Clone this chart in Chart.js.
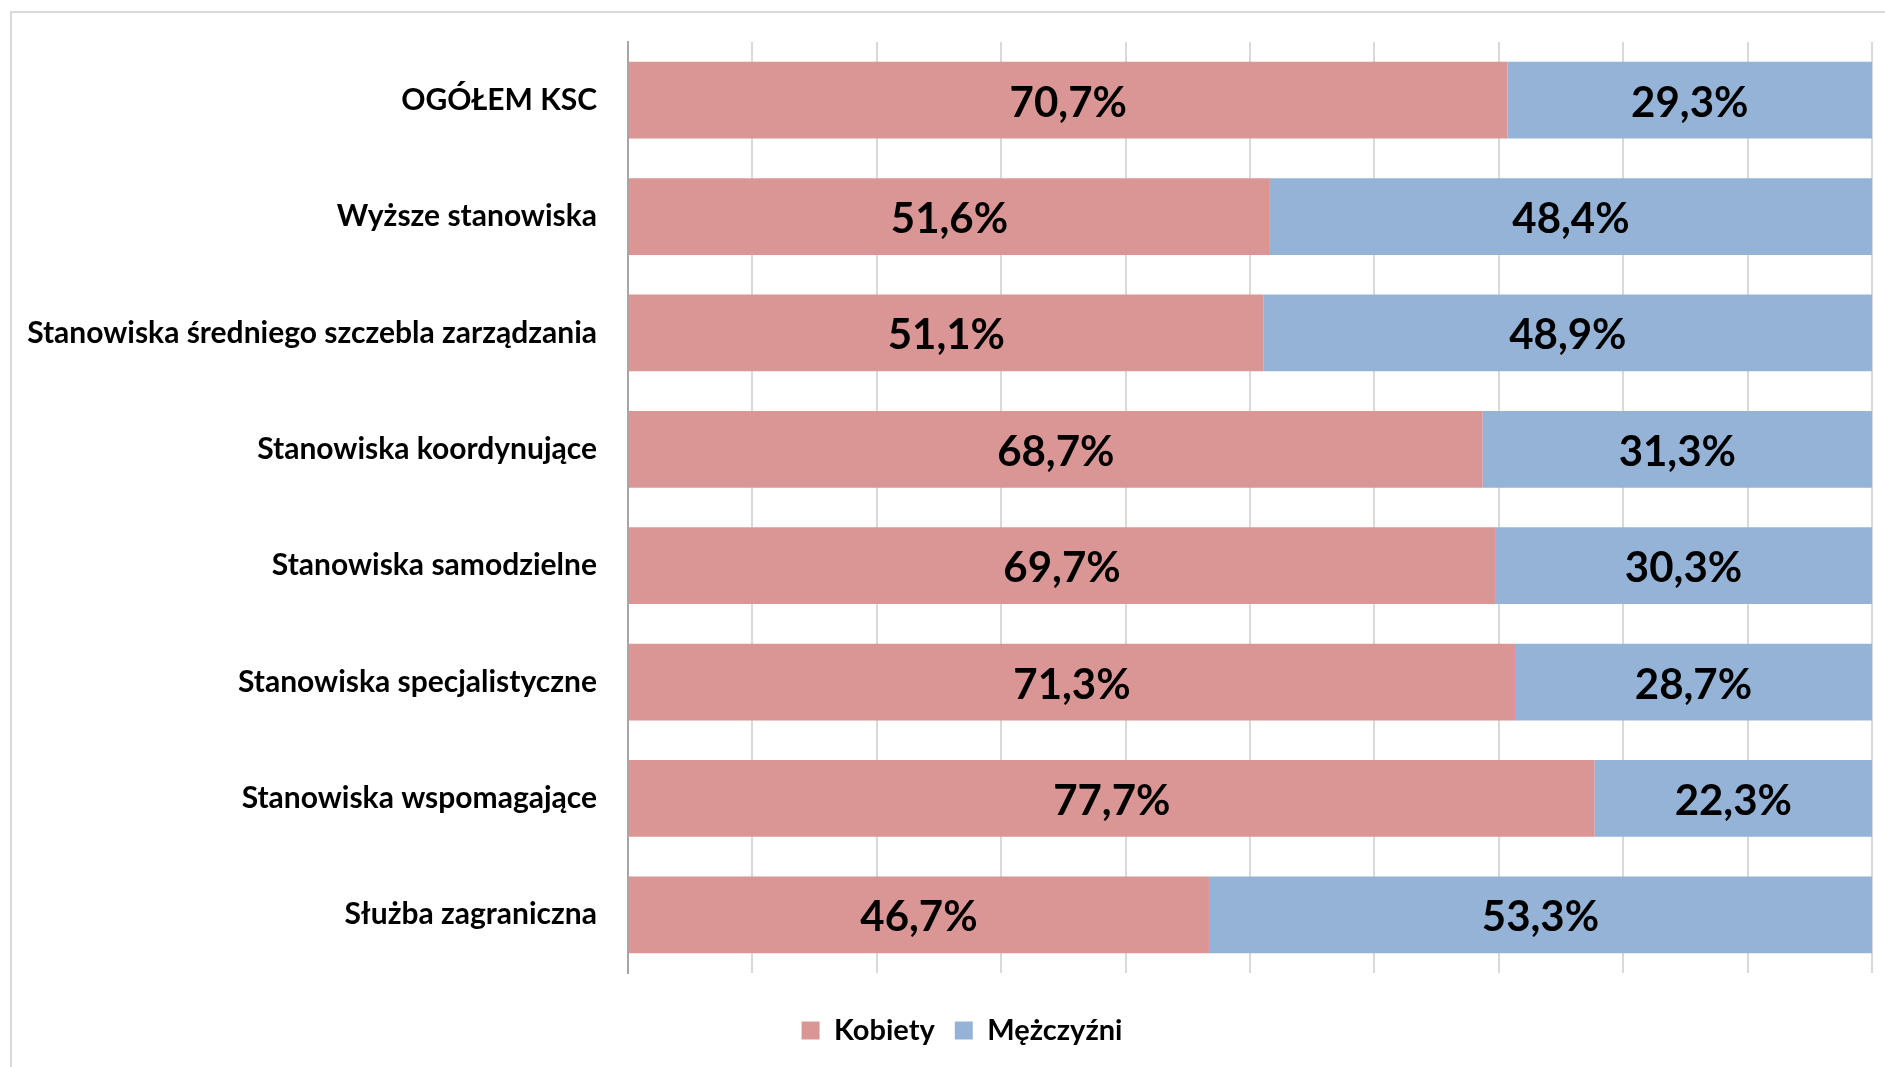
<!DOCTYPE html>
<html>
<head>
<meta charset="utf-8">
<script src="https://cdn.jsdelivr.net/npm/chart.js@4.4.1/dist/chart.umd.min.js"></script>
<style>
  html, body { margin: 0; padding: 0; background: #fff; overflow: hidden; }
  #frame {
    position: absolute; left: 10px; top: 11px;
    width: 1900px; height: 1060px;
    border-top: 2px solid #d9d9d9; border-left: 2px solid #d9d9d9;
  }
  #wrap { position: relative; width: 1900px; height: 1054px; }
</style>
</head>
<body>
<div id="frame"><div id="wrap"><canvas id="genderChart"></canvas></div></div>
<script>
// Categories and shares (%)
const categories = [
  "OGÓŁEM KSC",
  "Wyższe stanowiska",
  "Stanowiska średniego szczebla zarządzania",
  "Stanowiska koordynujące",
  "Stanowiska samodzielne",
  "Stanowiska specjalistyczne",
  "Stanowiska wspomagające",
  "Służba zagraniczna",
]
const kobiety = [70.7, 51.6, 51.1, 68.7, 69.7, 71.3, 77.7, 46.7]
const mezczyzni = [29.3, 48.4, 48.9, 31.3, 30.3, 28.7, 22.3, 53.3]

const FONT = "Lato, 'Open Sans', sans-serif"

// Value labels centred in each segment
const barLabels = {
  id: "barLabels",
  afterDatasetsDraw(chart) {
    const ctx = chart.ctx
    ctx.save()
    ctx.font = "bold 42px " + FONT
    ctx.fillStyle = "#000"
    ctx.textAlign = "center"
    ctx.textBaseline = "middle"
    chart.data.datasets.forEach((ds, i) => {
      chart.getDatasetMeta(i).data.forEach((bar, j) => {
        const txt = ds.data[j].toFixed(1).replace(".", ",") + "%"
        ctx.fillText(txt, (bar.x + bar.base) / 2, bar.y + 3)
      })
    })
    ctx.restore()
  },
}

// legend sits centred on the whole frame, not just the canvas minus right padding
const legendShift = {
  id: "legendShift",
  afterLayout(chart) {
    chart.legend.left += 40
  },
}

const ctx = document.getElementById("genderChart").getContext("2d")
new Chart(ctx, {
  type: "bar",
  data: {
    labels: categories,
    datasets: [
      { label: "Kobiety", data: kobiety, backgroundColor: "#d99694" },
      { label: "Mężczyźni", data: mezczyzni, backgroundColor: "#95b3d7" },
    ],
  },
  options: {
    indexAxis: "y",
    responsive: true,
    maintainAspectRatio: false,
    animation: false,
    layout: { padding: { top: 29, right: 40, bottom: 12, left: 0 } },
    datasets: { bar: { categoryPercentage: 0.66, barPercentage: 1 } },
    scales: {
      x: {
        stacked: true,
        min: 0,
        max: 100,
        ticks: { display: false, stepSize: 10 },
        grid: { color: "#d9d9d9", lineWidth: 2, drawTicks: false },
        border: { display: false },
        afterFit: (s) => { s.height = 23 },
      },
      y: {
        stacked: true,
        grid: { display: false, drawTicks: true, tickLength: 27 },
        border: { display: true, color: "#a6a6a6", width: 2 },
        ticks: {
          color: "#000",
          padding: 4,
          font: { family: FONT, size: 30, weight: "bold" },
        },
        afterFit: (s) => { s.width = 616 },
      },
    },
    plugins: {
      legend: {
        position: "bottom",
        labels: {
          color: "#000",
          boxWidth: 18,
          boxHeight: 18,
          padding: 20,
          font: { family: FONT, size: 29, weight: "bold" },
        },
      },
      tooltip: { enabled: false },
    },
  },
  plugins: [barLabels, legendShift],
})
</script>
</body>
</html>
